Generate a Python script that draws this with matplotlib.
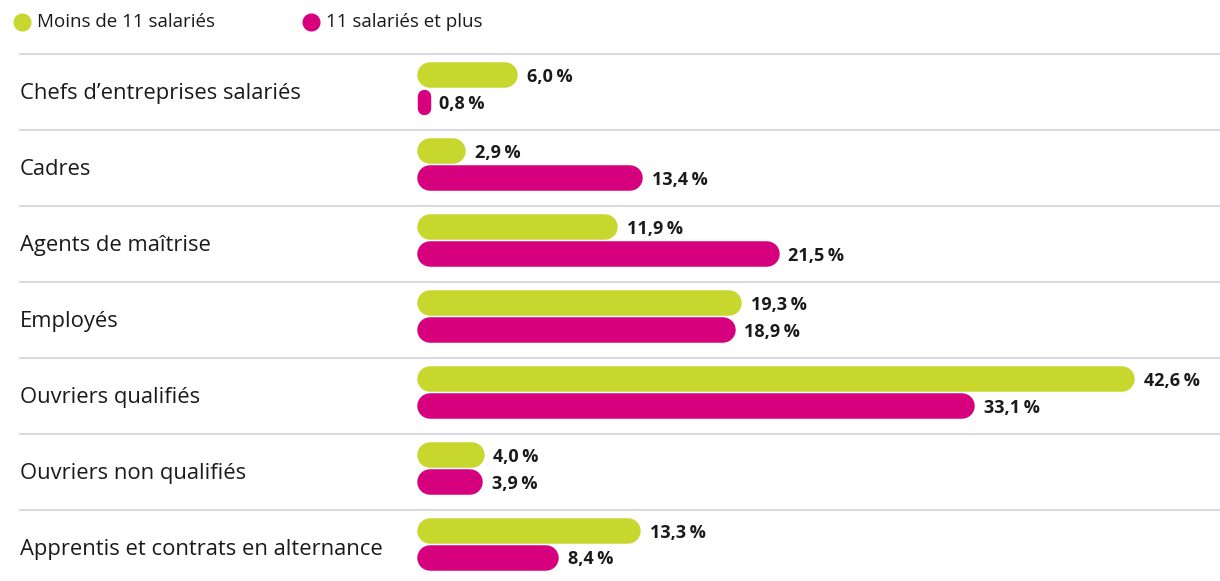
import matplotlib.pyplot as plt

categories = ["Chefs d\u2019entreprises salariés", "Cadres", "Agents de maîtrise", "Employés",
              "Ouvriers qualifiés", "Ouvriers non qualifiés", "Apprentis et contrats en alternance"]
small = [6.0, 2.9, 11.9, 19.3, 42.6, 4.0, 13.3]
large = [0.8, 13.4, 21.5, 18.9, 33.1, 3.9, 8.4]
series_names = ["Moins de 11 salariés", "11 salariés et plus"]

GREEN = "#c8d72e"
PINK = "#d6007e"
GRID = "#d6d6e4"
TXT = "#1a1a1a"

W, H = 1220, 581
PX = 16.85      # pixels per percent
ROW = 76        # pixels per row
TOP = 53.5      # first separator (px from top)
BAR_H = 25.5

plt.rcParams['font.family'] = ['Open Sans', 'DejaVu Sans']

fig = plt.figure(figsize=(W / 100, H / 100), dpi=100)
ax = fig.add_axes([0, 0, 1, 1])
ax.axis('off')
ax.set_xlim(-417 / PX, (W - 417) / PX)
ax.set_ylim((H - TOP) / ROW, -TOP / ROW)


def pill(val, yc, col):
    # rounded bar drawn as a thick line with round caps
    wpx = val * PX
    if wpx >= BAR_H:
        r = BAR_H / 2 / PX
        ax.plot([r, val - r], [yc, yc], color=col, lw=BAR_H * 0.72,
                solid_capstyle='round')
    else:
        r = wpx / 2
        dy = (BAR_H - wpx) / 2 / ROW
        ax.plot([val / 2, val / 2], [yc - dy, yc + dy], color=col, lw=wpx * 0.72,
                solid_capstyle='round')


for i, cat in enumerate(categories):
    ax.axhline(i, xmin=20 / W, xmax=1, color=GRID, lw=1.3)
    ax.text(20 / W, i + 0.53, cat, transform=ax.get_yaxis_transform(),
            va='center', ha='left', fontsize=15.8, color=TXT)
    for val, off, col in [(small[i], 21.5, GREEN), (large[i], 48.5, PINK)]:
        yc = i + off / ROW
        pill(val, yc, col)
        ax.text(val + 9 / PX, yc + 1.5 / ROW, f"{val:.1f}".replace('.', ',') + "\u2009%",
                va='center', ha='left', fontsize=13, fontweight='bold', color=TXT)

# legend
for (xc, col, name) in [(22, GREEN, series_names[0]), (311, PINK, series_names[1])]:
    fig.lines.append(plt.Line2D([xc / W], [1 - 22 / H], marker='o', markersize=12,
                                color=col, transform=fig.transFigure))
    fig.text((xc + 15) / W, 1 - 22 / H, name, va='center', ha='left',
             fontsize=13.5, color=TXT)

fig.savefig("out.png", dpi=100)
